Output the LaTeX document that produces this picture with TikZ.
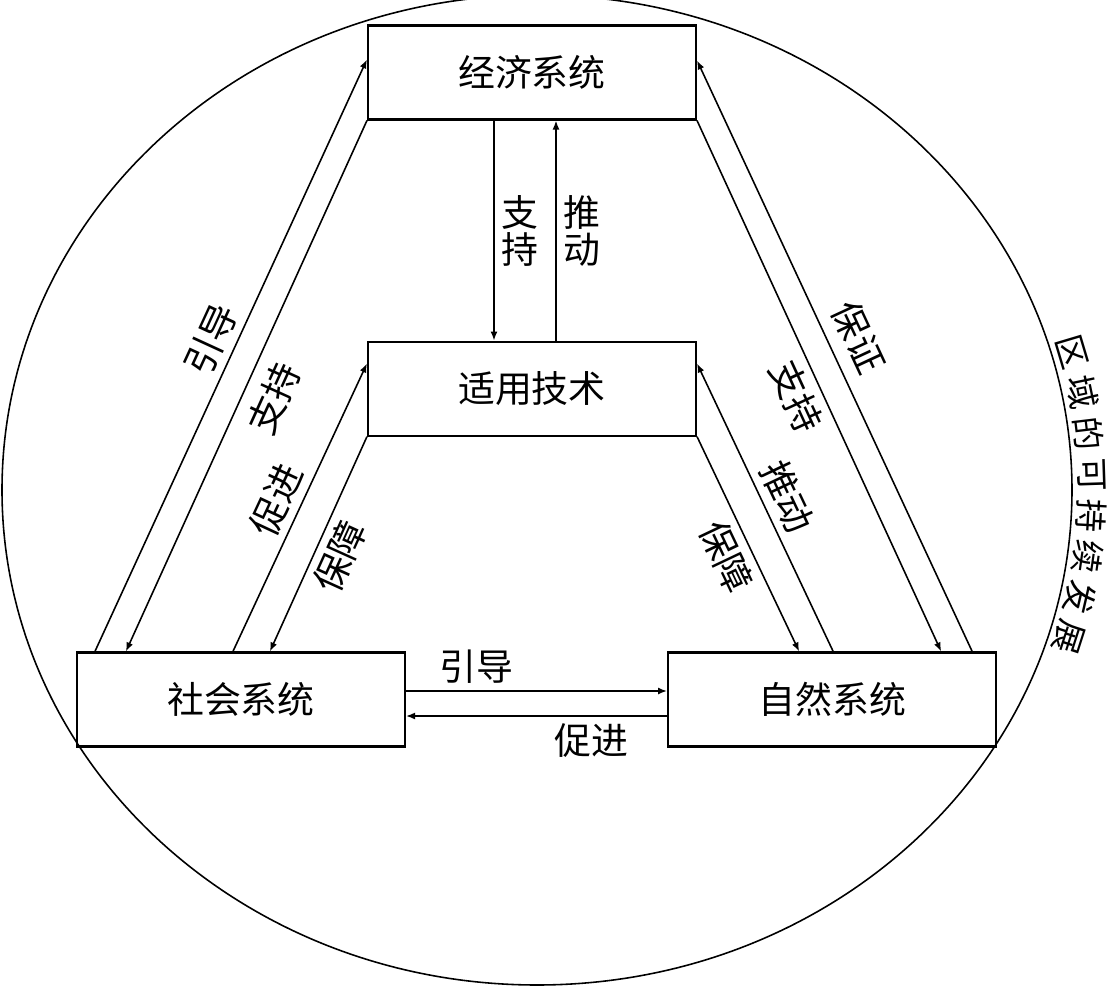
\documentclass[tikz,border=0pt]{standalone}
\usepackage{fontspec}
\newfontfamily\cjk{Noto Sans CJK SC}
\usetikzlibrary{positioning, arrows.meta}
\tikzset{
    sysbox/.style={rectangle, draw=black, line width=0.6pt, minimum width=3.28cm, minimum height=0.94cm, inner sep=0pt, font=\cjk\fontsize{10.5}{12}\selectfont},
    arr/.style={-{Latex[length=0.9mm, width=0.7mm]}, line width=0.45pt, color=black},
    lbl/.style={font=\cjk\fontsize{10.5}{12}\selectfont, inner sep=2pt},
    stack/.style={align=center, font=\cjk\fontsize{10.5}{10.5}\selectfont, inner sep=2pt},
    ringtext/.style={font=\cjk\fontsize{9.5}{11}\selectfont, inner sep=0pt},
}
\begin{document}
\begin{tikzpicture}[node distance=2.2cm]
        \useasboundingbox (0,0) rectangle (11.16,-9.87);
        \draw[line width=0.45pt] (5.37,-4.90) ellipse [x radius=5.35cm, y radius=4.95cm];

        \node[sysbox] (jingji) at (5.32,-0.725) {经济系统};
        \node[sysbox, below=of jingji] (jishu) {适用技术};
        \node[sysbox] (shehui) at (2.41,-6.995) {社会系统};
        \node[sysbox, right=2.61cm of shehui] (ziran) {自然系统};

        % jingji <-> jishu
        \draw[arr] ([xshift=-0.38cm]jingji.south) -- node[stack, right] {支\\持} ([xshift=-0.38cm]jishu.north);
        \draw[arr] ([xshift=0.24cm]jishu.north) -- node[stack, right] {推\\动} ([xshift=0.24cm]jingji.south);

        % left side
        \draw[arr] ([xshift=0.19cm]shehui.north west) -- node[lbl, sloped, above, pos=0.51] {引导} ([yshift=-0.35cm]jingji.north west);
        \draw[arr] (jingji.south west) -- node[lbl, sloped, below, pos=0.5, inner sep=3.5pt] {支持} ([xshift=0.50cm]shehui.north west);
        \draw[arr] ([xshift=1.57cm]shehui.north west) -- node[lbl, sloped, above, pos=0.49] {促进} ([yshift=-0.23cm]jishu.north west);
        \draw[arr] (jishu.south west) -- node[lbl, sloped, below, pos=0.51] {保障} ([xshift=1.94cm]shehui.north west);

        % right side
        \draw[arr] ([xshift=-0.25cm]ziran.north east) -- node[lbl, sloped, above, pos=0.51, inner sep=3.5pt] {保证} ([yshift=-0.36cm]jingji.north east);
        \draw[arr] (jingji.south east) -- node[lbl, sloped, below, pos=0.5] {支持} ([xshift=-0.56cm]ziran.north east);
        \draw[arr] ([xshift=-1.64cm]ziran.north east) -- node[lbl, sloped, above, pos=0.5] {推动} ([yshift=-0.23cm]jishu.north east);
        \draw[arr] (jishu.south east) -- node[lbl, sloped, below, pos=0.51] {保障} ([xshift=-1.98cm]ziran.north east);

        % bottom
        \draw[arr] ([yshift=0.085cm]shehui.east) -- node[lbl, above, pos=0.27] {引导} ([yshift=0.085cm]ziran.west);
        \draw[arr] ([yshift=-0.165cm]ziran.west) -- node[lbl, below, pos=0.29] {促进} ([yshift=-0.165cm]shehui.east);

        % text along the ring
        \foreach \ch [count=\i] in {区,域,的,可,持,续,发,展} {
            \pgfmathsetmacro\t{15.5-4.59*(\i-1)}
            \pgfmathsetmacro\rot{atan2(-5.15*cos(\t), 5.55*sin(\t))}
            \node[ringtext, rotate=\rot] (ring\i) at ({5.37+5.55*cos(\t)}, {-4.90+5.15*sin(\t)}) {\ch};
        }
    \end{tikzpicture}
\end{document}
